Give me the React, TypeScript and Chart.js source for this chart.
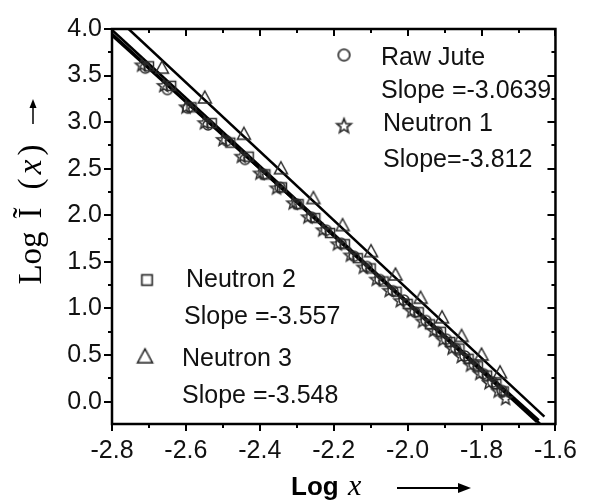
import React, { useEffect, useRef } from "react";
import { Chart, registerables } from "chart.js";

Chart.register(...registerables);

// ---------- data ----------
const seriesNames = ["Raw Jute", "Neutron 1", "Neutron 2", "Neutron 3"];
const slopeLabels = ["Slope =-3.0639", "Slope=-3.812", "Slope =-3.557", "Slope =-3.548"];

const rawJuteX = [-2.71, -2.65, -2.595, -2.54, -2.49, -2.44, -2.39, -2.345, -2.3, -2.26, -2.22, -2.18, -2.145, -2.11, -2.075, -2.04, -2.01, -1.98, -1.95, -1.92, -1.895, -1.87, -1.845, -1.82, -1.795, -1.77, -1.745];
const rawJuteY = [3.58, 3.35, 3.15, 2.97, 2.8, 2.6, 2.44, 2.3, 2.12, 1.98, 1.84, 1.7, 1.56, 1.45, 1.31, 1.19, 1.09, 0.96, 0.87, 0.75, 0.67, 0.57, 0.49, 0.4, 0.3, 0.21, 0.12];

const neutron1X = [-2.72, -2.66, -2.6, -2.55, -2.5, -2.45, -2.4, -2.355, -2.31, -2.27, -2.23, -2.19, -2.155, -2.12, -2.085, -2.05, -2.02, -1.99, -1.96, -1.93, -1.905, -1.88, -1.855, -1.83, -1.805, -1.78, -1.755, -1.735];
const neutron1Y = [3.62, 3.4, 3.17, 3.0, 2.82, 2.64, 2.46, 2.3, 2.14, 1.99, 1.85, 1.7, 1.58, 1.45, 1.32, 1.2, 1.09, 0.98, 0.87, 0.77, 0.67, 0.58, 0.49, 0.4, 0.31, 0.21, 0.12, 0.04];

const neutron2X = [-2.7, -2.64, -2.585, -2.53, -2.48, -2.43, -2.385, -2.34, -2.295, -2.25, -2.21, -2.17, -2.135, -2.1, -2.065, -2.03, -2.0, -1.97, -1.94, -1.91, -1.885, -1.86, -1.835, -1.81, -1.785, -1.76, -1.74];
const neutron2Y = [3.6, 3.39, 3.16, 2.99, 2.78, 2.63, 2.44, 2.3, 2.12, 1.97, 1.81, 1.69, 1.54, 1.43, 1.29, 1.18, 1.05, 0.96, 0.83, 0.75, 0.64, 0.57, 0.46, 0.38, 0.28, 0.19, 0.11];

const neutron3X = [-2.665, -2.549, -2.443, -2.343, -2.255, -2.176, -2.099, -2.033, -1.965, -1.907, -1.854, -1.8, -1.75];
const neutron3Y = [3.58, 3.26, 2.87, 2.5, 2.18, 1.89, 1.61, 1.36, 1.11, 0.9, 0.7, 0.5, 0.31];

const fitRawJuteX = [-2.8, -1.642];
const fitRawJuteY = [3.99, -0.236];
const fitNeutron1X = [-2.8, -1.65];
const fitNeutron1Y = [3.95, -0.22];
const fitNeutron2X = [-2.8, -1.645];
const fitNeutron2Y = [3.93, -0.2];
const fitNeutron3X = [-2.755, -1.63];
const fitNeutron3Y = [4.0, -0.16];

const xTickValues = [-2.8, -2.6, -2.4, -2.2, -2.0, -1.8, -1.6];
const yTickValues = [0.0, 0.5, 1.0, 1.5, 2.0, 2.5, 3.0, 3.5, 4.0];
const xMin = -2.8, xMax = -1.6, yMin = -0.24, yMax = 4.0;

// ---------- helpers ----------
const MARK = "#2a2a2a";
function makeMarker(kind: string): HTMLCanvasElement {
  const c = document.createElement("canvas");
  c.width = 18; c.height = 18;
  const g = c.getContext("2d")!;
  g.strokeStyle = MARK; g.lineWidth = 1.5; g.lineJoin = "miter";
  const cx = 9, cy = 9;
  g.beginPath();
  if (kind === "circle") {
    g.arc(cx, cy, 5, 0, Math.PI * 2);
  } else if (kind === "square") {
    g.rect(cx - 4.5, cy - 4.5, 9, 9);
  } else if (kind === "triangle") {
    g.moveTo(cx, cy - 7); g.lineTo(cx + 6.5, cy + 5); g.lineTo(cx - 6.5, cy + 5); g.closePath();
  } else {
    for (let i = 0; i < 10; i++) {
      const r = i % 2 === 0 ? 6.5 : 2.8;
      const a = -Math.PI / 2 + (i * Math.PI) / 5;
      const px = cx + r * Math.cos(a), py = cy + 1 + r * Math.sin(a);
      if (i === 0) g.moveTo(px, py); else g.lineTo(px, py);
    }
    g.closePath();
  }
  g.stroke();
  return c;
}

function pts(xs: number[], ys: number[]) {
  return xs.map((x, i) => ({ x, y: ys[i] }));
}

export default function App() {
  const ref = useRef<HTMLCanvasElement | null>(null);
  useEffect(() => {
    document.body.style.margin = "0";
    const markers = {
      circle: makeMarker("circle"),
      star: makeMarker("star"),
      square: makeMarker("square"),
      triangle: makeMarker("triangle"),
    };
    const legendMarkers = [markers.circle, markers.star, markers.square, markers.triangle];

    const framePlugin = {
      id: "framePlugin",
      afterDraw(chart: any) {
        const ctx = chart.ctx as CanvasRenderingContext2D;
        const a = chart.chartArea;
        const xs = chart.scales.x, ys = chart.scales.y;
        ctx.save();
        ctx.strokeStyle = "#000";
        ctx.lineWidth = 2.5;
        ctx.strokeRect(a.left, a.top, a.right - a.left, a.bottom - a.top);
        ctx.lineWidth = 2;
        ctx.beginPath();
        for (let i = 0; i <= 12; i++) {
          const v = xMin + i * 0.1;
          const px = Math.round(xs.getPixelForValue(v));
          const L = i % 2 === 0 ? 7 : 4;
          ctx.moveTo(px, a.bottom); ctx.lineTo(px, a.bottom + L);
          ctx.moveTo(px, a.top); ctx.lineTo(px, a.top + L);
        }
        for (let i = 0; i <= 16; i++) {
          const v = i * 0.25;
          const py = Math.round(ys.getPixelForValue(v));
          const L = i % 2 === 0 ? 8 : 4;
          ctx.moveTo(a.left, py); ctx.lineTo(a.left - L, py);
          ctx.moveTo(a.right, py); ctx.lineTo(a.right - L, py);
        }
        ctx.stroke();

        // legend
        const legendPos = [
          { mx: a.left + 232, my: a.top + 26, tx: a.left + 269, ty: a.top + 27, sy: a.top + 60 },
          { mx: a.left + 232, my: a.top + 96, tx: a.left + 271, ty: a.top + 93, sy: a.top + 129 },
          { mx: a.left + 35, my: a.top + 251, tx: a.left + 74, ty: a.top + 249, sy: a.top + 286 },
          { mx: a.left + 33, my: a.top + 328, tx: a.left + 70, ty: a.top + 328, sy: a.top + 365 },
        ];
        ctx.fillStyle = "#111";
        ctx.font = "25px 'Liberation Sans', Arial, sans-serif";
        ctx.textAlign = "left";
        ctx.textBaseline = "alphabetic";
        legendPos.forEach((p, i) => {
          const m = legendMarkers[i];
          const s = 1.15;
          ctx.drawImage(m, p.mx - (m.width * s) / 2, p.my - (m.height * s) / 2, m.width * s, m.height * s);
          ctx.fillText(seriesNames[i], p.tx, p.ty + 9);
          ctx.fillText(slopeLabels[i], i === 2 ? p.tx - 2 : p.tx, p.sy + 9);
        });

        // x title
        ctx.fillStyle = "#000";
        ctx.font = "bold 26px 'Liberation Sans', Arial, sans-serif";
        ctx.fillText("Log", 291, 495);
        ctx.font = "italic 30px 'Liberation Serif', 'Times New Roman', serif";
        ctx.fillText("x", 348, 495);
        ctx.lineWidth = 2;
        ctx.beginPath();
        ctx.moveTo(397, 488); ctx.lineTo(462, 488); ctx.stroke();
        ctx.beginPath();
        ctx.moveTo(471, 488); ctx.lineTo(458, 483); ctx.lineTo(458, 493); ctx.closePath(); ctx.fill();

        // y title (rotated)
        ctx.save();
        ctx.translate(41, 0);
        ctx.rotate(-Math.PI / 2);
        ctx.textAlign = "center";
        ctx.font = "33px 'Liberation Serif', 'Times New Roman', serif";
        ctx.fillText("Log", -258, 0);
        ctx.fillText("\u0128", -213, 0);
        ctx.fillText("(", -184, 0);
        ctx.fillText(")", -150, 0);
        ctx.font = "italic 33px 'Liberation Serif', 'Times New Roman', serif";
        ctx.fillText("x", -167, 0);
        ctx.restore();
        ctx.lineWidth = 1.5;
        ctx.beginPath();
        ctx.moveTo(33, 124); ctx.lineTo(33, 106); ctx.stroke();
        ctx.beginPath();
        ctx.moveTo(33, 99); ctx.lineTo(29.5, 108); ctx.lineTo(36.5, 108); ctx.closePath(); ctx.fill();
        ctx.restore();
      },
    };

    const scatterDs = (label: string, xs: number[], ys: number[], style: HTMLCanvasElement) => ({
      label,
      data: pts(xs, ys),
      showLine: false,
      pointStyle: style,
      pointRadius: 6,
      borderColor: MARK,
      backgroundColor: "transparent",
    });
    const lineDs = (label: string, xs: number[], ys: number[]) => ({
      label,
      data: pts(xs, ys),
      showLine: true,
      pointRadius: 0,
      borderColor: "#000",
      borderWidth: 2.5,
      fill: false,
    });

    const chart = new Chart(ref.current!, {
      type: "scatter",
      data: {
        datasets: [
          scatterDs(seriesNames[0], rawJuteX, rawJuteY, markers.circle),
          scatterDs(seriesNames[1], neutron1X, neutron1Y, markers.star),
          scatterDs(seriesNames[2], neutron2X, neutron2Y, markers.square),
          scatterDs(seriesNames[3], neutron3X, neutron3Y, markers.triangle),
          lineDs("fit RJ", fitRawJuteX, fitRawJuteY),
          lineDs("fit N1", fitNeutron1X, fitNeutron1Y),
          lineDs("fit N2", fitNeutron2X, fitNeutron2Y),
          lineDs("fit N3", fitNeutron3X, fitNeutron3Y),
        ] as any,
      },
      options: {
        responsive: false,
        animation: false,
        layout: { padding: { top: 29, right: 23, left: 0, bottom: 0 } },
        plugins: { legend: { display: false }, tooltip: { enabled: false } },
        scales: {
          x: {
            type: "linear",
            min: xMin,
            max: xMax,
            grid: { display: false, drawTicks: false },
            border: { display: false },
            afterBuildTicks: (s: any) => { s.ticks = xTickValues.map((v) => ({ value: v })); },
            afterFit: (s: any) => { s.height = 76; },
            ticks: {
              color: "#111",
              padding: 12,
              font: { family: "'Liberation Sans', Arial, sans-serif", size: 25 },
              callback: (v: any) => Number(v).toFixed(1),
            },
          },
          y: {
            type: "linear",
            min: yMin,
            max: yMax,
            grid: { display: false, drawTicks: false },
            border: { display: false },
            afterBuildTicks: (s: any) => { s.ticks = yTickValues.map((v) => ({ value: v })); },
            afterFit: (s: any) => { s.width = 112; },
            ticks: {
              color: "#111",
              padding: 10,
              font: { family: "'Liberation Sans', Arial, sans-serif", size: 25 },
              callback: (v: any) => Number(v).toFixed(1),
            },
          },
        },
      } as any,
      plugins: [framePlugin],
    });
    return () => chart.destroy();
  }, []);

  return (
    <div style={{ width: 589, height: 500, background: "#fff" }}>
      <canvas ref={ref} width={589} height={500} style={{ width: 589, height: 500, display: "block" }} />
    </div>
  );
}
